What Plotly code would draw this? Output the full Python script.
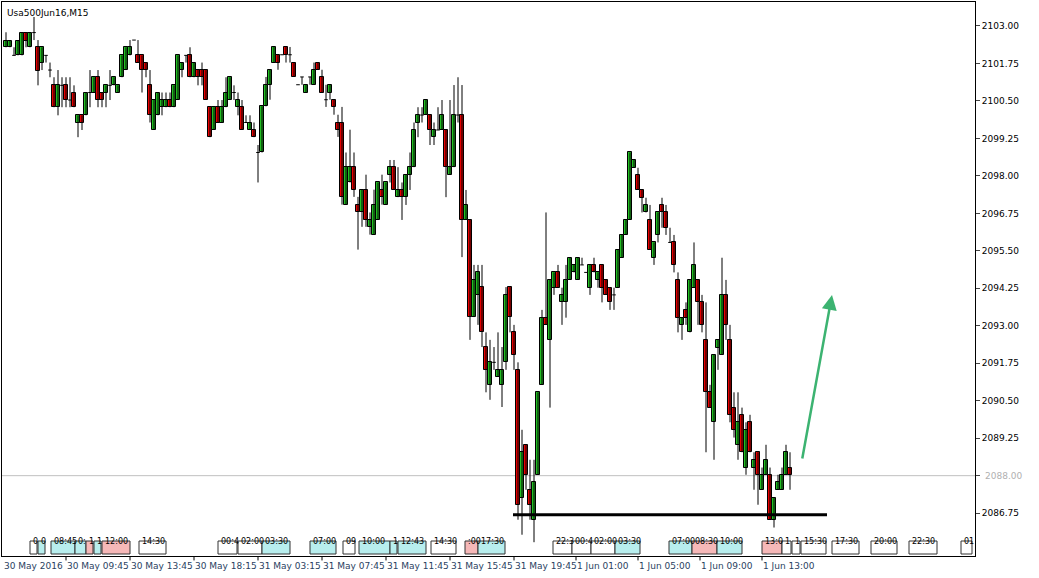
import plotly.graph_objects as go

# M15 candles (O, H, L, C per bar)
opens = [2102.29, 2102.29, 2102.02, 2102.02, 2102.02, 2102.78, 2102.29, 2102.78, 2102.29, 2101.78,
         2102.02, 2101.53, 2101.02, 2100.29, 2101.02, 2101.02, 2100.53, 2100.78, 2099.78, 2100.02,
         2100.02, 2100.78, 2100.78, 2101.29, 2100.78, 2100.78, 2101.02, 2101.02, 2100.78, 2101.29,
         2101.53, 2102.02, 2102.53, 2102.02, 2102.02, 2101.78, 2101.02, 2099.53, 2100.02, 2100.29,
         2100.29, 2100.53, 2100.29, 2100.53, 2101.53, 2102.02, 2102.02, 2101.29, 2101.53, 2101.53,
         2101.53, 2100.29, 2099.53, 2100.29, 2099.78, 2100.29, 2100.53, 2100.78, 2100.29, 2100.29,
         2099.78, 2099.53, 2099.53, 2098.78, 2098.78, 2100.32, 2101.04, 2101.78, 2102.04, 2102.04,
         2102.30, 2102.04, 2101.78, 2101.04, 2101.30, 2100.78, 2101.30, 2101.04, 2101.78, 2101.30,
         2100.54, 2100.78, 2100.54, 2099.78, 2099.78, 2097.04, 2097.78, 2098.30, 2097.04, 2096.78,
         2097.54, 2096.30, 2096.04, 2096.54, 2097.54, 2097.04, 2098.03, 2098.29, 2097.29, 2097.53,
         2097.29, 2098.03, 2098.29, 2099.78, 2100.03, 2100.03, 2100.03, 2099.29, 2099.53, 2099.53,
         2099.53, 2098.03, 2098.29, 2100.03, 2100.03, 2096.53, 2096.53, 2093.29, 2094.03, 2094.29,
         2092.29, 2091.03, 2091.78, 2091.29, 2091.03, 2091.78, 2094.29, 2092.78, 2091.53, 2087.27,
         2089.03, 2087.53, 2086.53, 2088.03, 2091.03, 2093.27, 2092.53, 2094.27, 2094.78, 2093.78,
         2093.78, 2094.53, 2094.78, 2094.53, 2095.03, 2094.78, 2094.27, 2095.03, 2094.53, 2095.03,
         2094.53, 2094.27, 2094.03, 2094.27, 2095.27, 2096.03, 2096.53, 2098.27, 2098.03, 2097.53,
         2096.78, 2096.53, 2095.27, 2096.03, 2097.03, 2096.78, 2095.78, 2095.78, 2094.53, 2093.03,
         2093.53, 2092.78, 2094.27, 2094.53, 2093.78, 2092.53, 2090.78, 2089.78, 2092.27, 2092.03,
         2094.03, 2092.53, 2090.27, 2089.03, 2090.03, 2088.27, 2089.78, 2088.27, 2088.78, 2087.53,
         2088.03, 2088.03, 2086.53, 2087.53, 2087.53, 2088.03, 2088.27]
highs = [2102.79, 2102.51, 2102.29, 2102.51, 2102.78, 2102.78, 2102.78, 2103.30, 2102.53, 2102.29,
         2102.02, 2101.78, 2101.29, 2101.53, 2101.29, 2101.29, 2101.29, 2101.02, 2100.02, 2100.02,
         2100.78, 2101.53, 2101.29, 2101.53, 2100.78, 2101.02, 2101.53, 2101.29, 2101.02, 2102.02,
         2102.29, 2102.53, 2102.53, 2102.53, 2102.02, 2101.78, 2101.53, 2100.53, 2100.78, 2100.78,
         2100.78, 2100.78, 2101.02, 2102.02, 2101.78, 2102.02, 2102.29, 2101.78, 2101.53, 2101.78,
         2101.53, 2100.29, 2100.29, 2100.53, 2100.53, 2101.29, 2101.29, 2101.02, 2100.78, 2100.53,
         2100.02, 2100.02, 2099.78, 2099.03, 2100.32, 2101.30, 2101.54, 2102.30, 2102.04, 2102.04,
         2102.30, 2102.30, 2101.78, 2101.04, 2101.30, 2101.04, 2101.30, 2101.78, 2101.78, 2101.54,
         2101.04, 2101.04, 2100.54, 2100.04, 2100.30, 2098.78, 2099.54, 2098.78, 2097.30, 2097.54,
         2098.04, 2096.78, 2097.54, 2097.78, 2098.04, 2097.78, 2098.53, 2098.53, 2098.29, 2097.78,
         2098.03, 2098.78, 2099.78, 2100.29, 2100.29, 2100.53, 2100.03, 2099.78, 2100.29, 2100.53,
         2099.53, 2100.53, 2101.03, 2101.29, 2101.03, 2097.53, 2096.53, 2095.03, 2095.03, 2095.03,
         2092.78, 2092.53, 2092.29, 2092.78, 2092.29, 2094.29, 2094.29, 2093.03, 2091.78, 2089.53,
         2089.03, 2088.53, 2088.53, 2090.78, 2093.53, 2096.78, 2094.53, 2094.78, 2095.03, 2094.27,
         2095.03, 2095.27, 2095.03, 2095.27, 2095.27, 2094.78, 2095.03, 2095.27, 2094.78, 2095.03,
         2094.53, 2094.27, 2094.27, 2095.53, 2096.03, 2096.53, 2098.78, 2098.53, 2098.27, 2097.53,
         2097.27, 2097.03, 2095.78, 2096.78, 2097.27, 2097.03, 2096.27, 2096.03, 2094.78, 2093.27,
         2093.78, 2094.53, 2095.78, 2094.53, 2094.03, 2093.78, 2091.03, 2092.03, 2092.53, 2095.27,
         2094.53, 2093.03, 2090.78, 2090.78, 2090.27, 2089.78, 2090.03, 2088.78, 2088.78, 2088.27,
         2089.03, 2088.27, 2087.27, 2088.03, 2088.27, 2089.03, 2088.78]
lows = [2102.29, 2102.29, 2102.02, 2102.02, 2102.02, 2102.29, 2102.29, 2102.53, 2101.02, 2101.53,
        2101.78, 2101.29, 2100.29, 2100.02, 2100.29, 2100.29, 2100.29, 2100.29, 2099.29, 2099.53,
        2100.02, 2100.29, 2100.78, 2100.29, 2100.29, 2100.29, 2100.53, 2101.02, 2100.78, 2101.29,
        2101.53, 2102.02, 2102.53, 2101.78, 2100.78, 2101.29, 2099.78, 2099.53, 2100.02, 2100.02,
        2100.29, 2100.29, 2100.29, 2100.53, 2101.29, 2101.78, 2101.29, 2101.29, 2101.02, 2101.02,
        2100.53, 2099.29, 2099.53, 2099.78, 2099.78, 2100.29, 2100.53, 2100.53, 2100.02, 2099.53,
        2099.78, 2099.53, 2099.29, 2097.78, 2098.78, 2100.32, 2100.54, 2101.78, 2101.54, 2102.04,
        2101.78, 2101.78, 2101.30, 2101.04, 2101.04, 2100.78, 2101.04, 2101.04, 2101.54, 2100.78,
        2100.30, 2100.54, 2100.04, 2099.30, 2097.04, 2097.04, 2097.78, 2097.30, 2095.54, 2096.30,
        2096.30, 2096.04, 2096.04, 2096.54, 2097.04, 2097.04, 2097.78, 2097.53, 2097.29, 2096.53,
        2097.03, 2097.53, 2098.29, 2099.29, 2099.78, 2100.03, 2099.03, 2099.03, 2099.53, 2099.53,
        2097.29, 2098.03, 2098.29, 2099.78, 2095.29, 2096.53, 2092.53, 2093.29, 2093.03, 2092.29,
        2090.78, 2090.53, 2091.53, 2091.29, 2090.29, 2091.53, 2092.78, 2091.53, 2086.53, 2086.03,
        2087.53, 2086.53, 2085.78, 2088.03, 2091.03, 2093.03, 2090.27, 2094.03, 2094.27, 2093.03,
        2093.27, 2094.53, 2094.78, 2094.53, 2095.03, 2094.78, 2094.03, 2094.78, 2094.27, 2093.78,
        2094.03, 2093.53, 2093.53, 2094.27, 2095.27, 2096.03, 2096.53, 2098.27, 2097.53, 2096.78,
        2096.78, 2095.53, 2095.03, 2095.78, 2096.27, 2096.03, 2095.78, 2094.78, 2092.78, 2092.53,
        2093.03, 2092.78, 2094.27, 2093.03, 2092.78, 2088.78, 2090.27, 2088.53, 2091.53, 2092.03,
        2092.53, 2089.78, 2089.27, 2088.53, 2088.78, 2088.03, 2088.78, 2087.53, 2087.03, 2087.53,
        2088.03, 2086.53, 2086.27, 2087.53, 2087.53, 2088.03, 2087.53]
closes = [2102.51, 2102.51, 2102.02, 2102.51, 2102.78, 2102.51, 2102.78, 2102.78, 2101.51, 2102.29,
          2102.02, 2101.53, 2100.29, 2101.02, 2101.02, 2100.53, 2100.53, 2100.29, 2100.02, 2099.78,
          2100.78, 2100.78, 2101.29, 2100.53, 2100.53, 2101.02, 2101.02, 2101.29, 2101.02, 2102.02,
          2102.29, 2102.29, 2102.53, 2101.78, 2101.53, 2101.53, 2100.02, 2100.53, 2100.78, 2100.53,
          2100.53, 2100.29, 2101.02, 2102.02, 2101.78, 2102.02, 2101.29, 2101.78, 2101.29, 2101.29,
          2100.53, 2099.29, 2100.29, 2099.78, 2100.29, 2100.78, 2101.29, 2100.78, 2100.53, 2099.53,
          2099.78, 2099.78, 2099.29, 2098.78, 2100.32, 2101.04, 2101.54, 2102.30, 2101.78, 2102.04,
          2102.04, 2102.04, 2101.30, 2101.04, 2101.30, 2101.04, 2101.30, 2101.54, 2101.54, 2100.78,
          2100.54, 2101.04, 2100.30, 2099.54, 2097.30, 2098.30, 2098.30, 2097.54, 2096.78, 2097.54,
          2096.54, 2096.54, 2097.04, 2097.78, 2097.30, 2097.78, 2098.29, 2097.53, 2097.53, 2097.29,
          2098.03, 2098.29, 2099.53, 2100.03, 2100.03, 2100.53, 2099.53, 2099.53, 2099.53, 2100.03,
          2098.29, 2098.29, 2100.03, 2100.03, 2096.53, 2097.03, 2093.29, 2094.53, 2094.78, 2092.78,
          2091.53, 2091.78, 2091.78, 2091.53, 2091.53, 2094.03, 2093.29, 2092.03, 2087.03, 2088.78,
          2088.03, 2087.03, 2087.78, 2090.78, 2093.27, 2093.03, 2094.53, 2094.78, 2094.27, 2094.03,
          2094.53, 2095.27, 2095.03, 2095.27, 2095.03, 2094.78, 2095.03, 2094.78, 2094.78, 2094.27,
          2094.03, 2093.78, 2094.03, 2095.53, 2096.03, 2096.53, 2098.78, 2098.53, 2097.53, 2097.27,
          2097.03, 2095.53, 2095.78, 2096.78, 2096.78, 2096.27, 2095.78, 2095.03, 2093.27, 2093.27,
          2093.27, 2094.53, 2095.03, 2093.78, 2093.03, 2090.78, 2090.27, 2092.03, 2092.53, 2094.03,
          2093.03, 2090.03, 2089.53, 2089.78, 2088.78, 2089.53, 2088.78, 2088.53, 2088.03, 2088.03,
          2088.53, 2086.53, 2087.27, 2087.78, 2088.03, 2088.78, 2088.03]

price_ticks = [2103.00, 2101.75, 2100.50, 2099.25, 2098.00, 2096.75, 2095.50, 2094.25,
               2093.00, 2091.75, 2090.50, 2089.25, 2088.00, 2086.75]

time_tick_bars = [15, 31, 47, 63, 79, 95, 111, 127, 142.5, 158, 173.5, 189]
time_tick_labels = ["30 May 09:45", "30 May 13:45", "30 May 18:15", "31 May 03:15",
                    "31 May 07:45", "31 May 11:45", "31 May 15:45", "31 May 19:45",
                    "1 Jun 01:00", "1 Jun 05:00", "1 Jun 09:00", "1 Jun 13:00"]

current_price = 2088.00
support_level = 2086.70
arrow_start = (199, 2088.52)
arrow_end = (206.5, 2094.03)

# session label boxes along the bottom: (left px, right px, text, kind)
session_boxes = [
    (30, 37, "0", "w"), (38, 45, "0", "c"), (51, 75, "08:45", "c"), (75, 86, "0:", "c"),
    (86, 93, "1", "r"), (94, 101, "1", "c"), (102, 130, "12:00", "r"), (139, 166, "14:30", "w"),
    (218, 237, "00:4", "w"), (238, 262, "02:00", "w"), (262, 290, "03:30", "c"),
    (310, 336, "07:00", "c"), (343, 355, "09", "w"), (359, 390, "10:00", "c"), (390, 397, "1", "c"),
    (398, 426, "12:43", "c"), (431, 456, "14:30", "w"), (465, 478, ":00", "r"), (478, 505, "17:30", "c"),
    (553, 572, "22:3", "w"), (572, 591, "00:4", "w"), (591, 615, "02:00", "w"), (615, 640, "03:30", "c"),
    (669, 692, "07:00", "c"), (692, 717, "08:30", "r"), (717, 742, "10:00", "c"),
    (762, 782, "13:0", "r"), (782, 791, "1", "w"), (792, 800, "1", "w"), (801, 826, "15:30", "w"),
    (832, 859, "17:30", "w"), (871, 897, "20:00", "w"), (909, 937, "22:30", "w"), (961, 972, "01", "w"),
]
box_fill = {"w": "white", "c": "#b8eeee", "r": "#f6b8b8"}

FONT = "DejaVu Sans"
UP, DOWN = "#22c022", "#e80000"


def px_to_bar(px):
    return (px - 6) / 4.0


def px_to_paper(py):
    return (556 - py) / 554.0


n = len(opens)
bars = list(range(n))

fig = go.Figure()

# wicks
wx, wy = [], []
for i in bars:
    wx += [i, i, None]
    wy += [lows[i], highs[i], None]
fig.add_trace(go.Scatter(x=wx, y=wy, mode="lines", line=dict(color="black", width=1),
                         showlegend=False, hoverinfo="skip"))

# bodies
body_idx = [i for i in bars if abs(closes[i] - opens[i]) > 0.01]
fig.add_trace(go.Bar(
    x=body_idx,
    base=[min(opens[i], closes[i]) for i in body_idx],
    y=[abs(closes[i] - opens[i]) for i in body_idx],
    width=0.95,
    marker=dict(color=[UP if closes[i] > opens[i] else DOWN for i in body_idx],
                line=dict(color="black", width=1)),
    showlegend=False, hoverinfo="skip",
))

# doji ticks
dx, dy = [], []
for i in bars:
    if abs(closes[i] - opens[i]) <= 0.01:
        dx += [i - 0.45, i + 0.45, None]
        dy += [opens[i], opens[i], None]
fig.add_trace(go.Scatter(x=dx, y=dy, mode="lines", line=dict(color="black", width=1),
                         showlegend=False, hoverinfo="skip"))

fig.add_hline(y=current_price, line=dict(color="#c0c0c0", width=1), layer="below")
fig.add_shape(type="line", x0=px_to_bar(513), x1=px_to_bar(827), y0=support_level, y1=support_level,
              line=dict(color="black", width=3))
fig.add_annotation(x=arrow_end[0], y=arrow_end[1], ax=arrow_start[0], ay=arrow_start[1],
                   xref="x", yref="y", axref="x", ayref="y", text="", showarrow=True,
                   arrowhead=2, arrowsize=1.2, arrowwidth=2.5, arrowcolor="#3cb371")

fig.add_annotation(x=0.003, y=0.993, xref="paper", yref="paper", xanchor="left", yanchor="top",
                   text="Usa500Jun16,M15", showarrow=False, font=dict(family=FONT, size=9, color="black"))
fig.add_annotation(x=1.0, y=current_price, xref="paper", yref="y", xanchor="left", xshift=8,
                   text=f"{current_price:.2f}", showarrow=False,
                   font=dict(family=FONT, size=9, color="#b0b0b0"))

# bottom time labels, left-aligned at their tick like MT4
fig.add_annotation(x=0, y=0, xref="paper", yref="paper", xanchor="left", yanchor="top",
                   text="30 May 2016", showarrow=False, font=dict(family=FONT, size=9), yshift=-3)
for b, lab in zip(time_tick_bars, time_tick_labels):
    fig.add_annotation(x=b, y=0, xref="x", yref="paper", xanchor="left", yanchor="top", xshift=-1,
                       text=lab, showarrow=False, font=dict(family=FONT, size=9), yshift=-3)
    fig.add_shape(type="line", x0=b, x1=b, y0=0, y1=-0.008, xref="x", yref="paper",
                  line=dict(color="black", width=1))

for x0, x1, txt, kind in session_boxes:
    fig.add_shape(type="rect", x0=px_to_bar(x0), x1=px_to_bar(x1), y0=px_to_paper(554),
                  y1=px_to_paper(541), xref="x", yref="paper", fillcolor=box_fill[kind],
                  line=dict(color="#333333", width=1), layer="above")
    fig.add_annotation(x=px_to_bar(x0 + 1), y=px_to_paper(547.5), xref="x", yref="paper",
                       xanchor="left", text=txt, showarrow=False,
                       font=dict(family=FONT, size=8, color="black"))

fig.update_layout(
    width=1039, height=578, margin=dict(l=2, r=64, t=2, b=22, autoexpand=False),
    paper_bgcolor="white", plot_bgcolor="white", bargap=0,
    xaxis=dict(range=[px_to_bar(2), px_to_bar(975)], showticklabels=False, showgrid=False,
               zeroline=False, automargin=False,
               showline=True, linecolor="black", mirror=True, fixedrange=True),
    yaxis=dict(range=[2085.32, 2103.80], side="right", tickvals=price_ticks,
               ticktext=["" if v == current_price else f"{v:.2f}" for v in price_ticks],
               ticks="outside", ticklen=4, automargin=False,
               showgrid=False, zeroline=False, showline=True, linecolor="black", mirror=True,
               tickfont=dict(family=FONT, size=9, color="black")),
)

fig.write_html("out.html", config={"displayModeBar": False},
               post_script="document.body.style.margin='0';")
